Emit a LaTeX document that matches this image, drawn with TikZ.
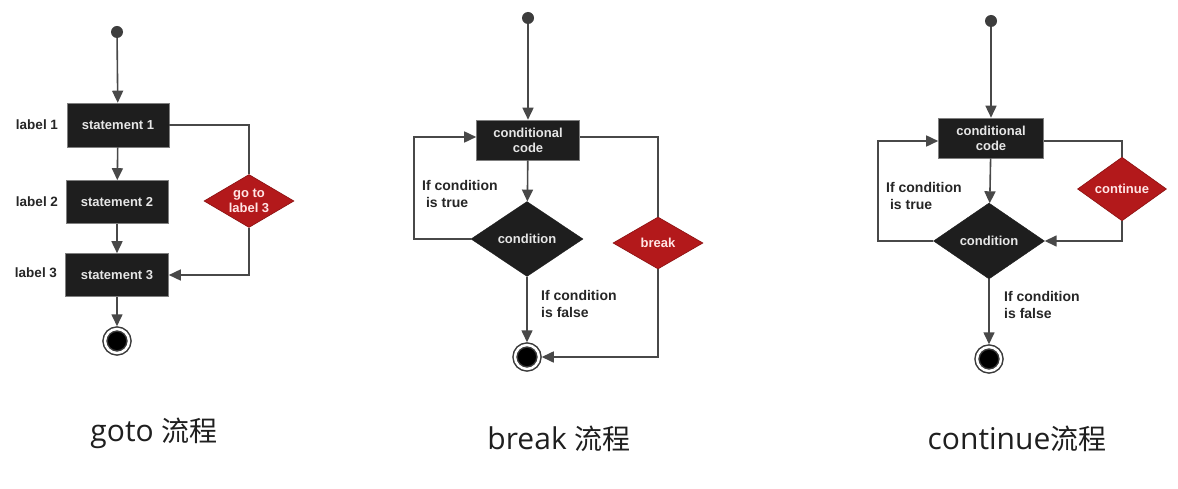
\documentclass[tikz,border=0pt]{standalone}
\usepackage{fontspec}
\setmainfont{Liberation Sans}
\newfontfamily\cjk{Noto Sans CJK SC}
\newfontfamily\capfont{Open Sans}
\usetikzlibrary{shapes.geometric,arrows.meta}
\definecolor{boxfill}{HTML}{1E1E1E}
\definecolor{linec}{HTML}{484848}
\definecolor{redfill}{HTML}{B3191B}
\definecolor{redline}{HTML}{8A1010}
\definecolor{boxtext}{HTML}{E6E6E6}
\tikzset{
  lw/.style={draw=linec, line width=1.6pt},
  conn/.style={lw},
  arr/.style={lw, -{Triangle[length=12pt,width=11pt]}},
  startdot/.style={circle, fill=linec!85!black, minimum size=12pt, inner sep=0pt},
  enddot/.style={circle, draw=linec!80!black, line width=1.5pt, double=white, double distance=2.5pt, fill=black, minimum size=24pt, inner sep=0pt, outer sep=2.75pt},
  stmtbox/.style={rectangle, fill=boxfill, draw=linec!70, line width=0.6pt, text=boxtext, font=\bfseries\fontsize{13}{15}\selectfont, align=center, inner sep=0pt},
  conddia/.style={diamond, fill=boxfill, draw=boxfill, text=boxtext, font=\bfseries\fontsize{13}{15}\selectfont, inner sep=0pt},
  reddia/.style={diamond, fill=redfill, draw=redline, line width=0.6pt, text=white!90!red, font=\bfseries\fontsize{13}{15}\selectfont, align=center, inner sep=0pt},
  lbl/.style={font=\bfseries\fontsize{13.5}{15}\selectfont, text=black!85},
  note/.style={font=\bfseries\fontsize{14}{17.5}\selectfont, text=black!85, align=left, anchor=west, inner sep=0pt},
  caption/.style={text=black!88, inner sep=0pt}
}
\newcommand{\caplat}[1]{{\capfont\fontsize{30}{34}\selectfont #1}}
\newcommand{\capcjk}[1]{{\cjk\fontsize{28}{34}\selectfont #1}}
\begin{document}
\begin{tikzpicture}[x=1pt,y=-1pt]
\useasboundingbox[fill=white] (0,0) rectangle (1178,489);

% ---------------- goto ----------------
\node[startdot] (gs) at (117,32) {};
\node[stmtbox, minimum width=102pt, minimum height=44pt] (s1) at (118,125) {statement 1};
\node[stmtbox, minimum width=102pt, minimum height=43pt] (s2) at (117,202) {statement 2};
\node[stmtbox, minimum width=103pt, minimum height=43pt] (s3) at (117,275) {statement 3};
\node[enddot] (ge) at (117,341) {};
\node[lbl] (l1) at (37,125) {label 1};
\node[lbl] (l2) at (37,202) {label 2};
\node[lbl] (l3) at (36,273) {label 3};
\node[reddia, minimum width=90pt, minimum height=53pt, inner sep=-4pt] (gd) at (249,201) {go to\\label 3};
\draw[arr] (gs) -- (s1);
\draw[arr] (s1) -- (s2);
\draw[arr] (s2) -- (s3);
\draw[arr] (s3) -- (ge);
\draw[conn] (s1.east) -| (gd.north);
\draw[arr] (gd.south) |- (s3.east);

% ---------------- break ----------------
\node[startdot] (bs) at (528,18) {};
\node[stmtbox, minimum width=103pt, minimum height=40pt] (bb) at (528,140) {conditional\\code};
\node[conddia, minimum width=112pt, minimum height=75pt] (bc) at (527,239) {condition};
\node[reddia, minimum width=90pt, minimum height=52pt] (bk) at (658,243) {break};
\node[enddot] (be) at (527,357) {};
\coordinate (bl) at (414,239);
\draw[arr] (bs) -- (bb);
\draw[arr] (bb) -- (bc);
\draw[arr] (bc) -- (be);
\draw[arr] (bc.west) -- (bl) |- ([yshift=3pt]bb.west);
\draw[conn] ([yshift=3pt]bb.east) -| (bk.north);
\draw[arr] (bk.south) |- (be.east);
\node[note] (bt) at (422,194) {If condition\\\ is true};
\node[note] (bf) at (541,304) {If condition\\is false};

% ---------------- continue ----------------
\node[startdot] (cs) at (991,21) {};
\node[stmtbox, minimum width=105pt, minimum height=40pt] (cb) at (991,138) {conditional\\code};
\node[conddia, minimum width=111pt, minimum height=76pt] (cc) at (989,241) {condition};
\node[reddia, minimum width=89pt, minimum height=52pt] (ct) at (1122,189) {continue};
\node[enddot] (ce) at (989,359) {};
\coordinate (cl) at (878,241);
\draw[arr] (cs) -- (cb);
\draw[arr] (cb) -- (cc);
\draw[arr] (cc) -- (ce);
\draw[arr] (cc.west) -- (cl) |- ([yshift=-3pt]cb.west);
\draw[conn] ([yshift=-3pt]cb.east) -| (ct.north);
\draw[arr] (ct.south) |- (cc.east);
\node[note] (ctt) at (886,196) {If condition\\\ is true};
\node[note] (cf) at (1004,305) {If condition\\is false};

% ---------------- captions ----------------
\node[caption] (gcap) at (154,433) {\caplat{goto }\capcjk{流程}};
\node[caption] (bcap) at (559,439) {\caplat{break }\capcjk{流程}};
\node[caption] (ccap) at (1017,439) {\caplat{continue}\capcjk{流程}};
\end{tikzpicture}
\end{document}
